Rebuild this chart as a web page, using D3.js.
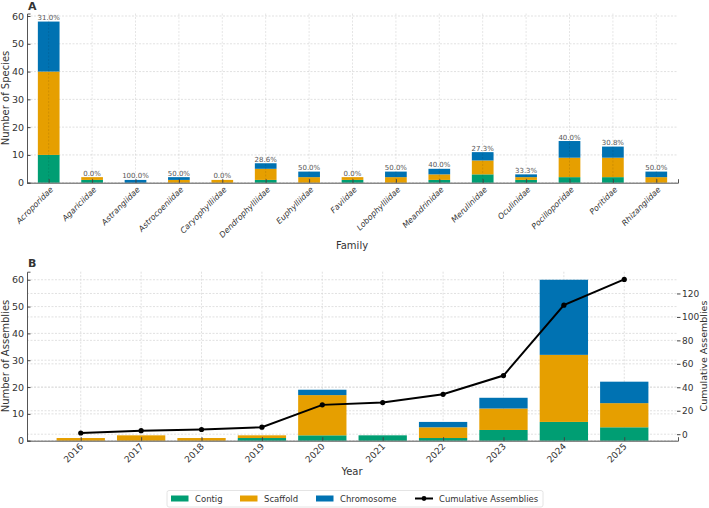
<!DOCTYPE html>
<html>
<head>
<meta charset="utf-8">
<script src="https://cdn.jsdelivr.net/npm/d3@7"></script>
<style>
  body { margin: 0; background: #fff; }
  svg { font-family: "DejaVu Sans", sans-serif; }
</style>
</head>
<body>
<div id="chart"></div>
<script>
// Panel A data: species per family by assembly level
var families = ["Acroporidae", "Agariciidae", "Astrangiidae", "Astrocoeniidae", "Caryophylliidae",
  "Dendrophylliidae", "Euphylliidae", "Faviidae", "Lobophylliidae", "Meandrinidae",
  "Merulinidae", "Oculinidae", "Pocilloporidae", "Poritidae", "Rhizangiidae"];
var famContig     = [10, 1, 0, 0, 0, 1, 0, 1, 0, 1, 3, 1, 2, 2, 0];
var famScaffold   = [30, 1, 0, 1, 1, 4, 2, 1, 2, 2, 5, 1, 7, 7, 2];
var famChromosome = [18, 0, 1, 1, 0, 2, 2, 0, 2, 2, 3, 1, 6, 4, 2];

// Panel B data: assemblies per year
var years = ["2016", "2017", "2018", "2019", "2020", "2021", "2022", "2023", "2024", "2025"];
var yearContig     = [0, 0, 0, 1, 2, 2, 1, 4, 7, 5];
var yearScaffold   = [1, 2, 1, 1, 15, 0, 4, 8, 25, 9];
var yearChromosome = [0, 0, 0, 0, 2, 0, 2, 4, 28, 8];

var levels = ["Contig", "Scaffold", "Chromosome"];
var colors = { Contig: "#009E73", Scaffold: "#E69F00", Chromosome: "#0072B2" };

var W = 709, H = 508;
var svg = d3.select("#chart").append("svg").attr("width", W).attr("height", H);

var txt = "#333";
var gridCol = "#d9d9d9";

function stackRows(cats, c, s, ch) {
  return cats.map(function (name, i) {
    return { name: name, i: i, Contig: c[i], Scaffold: s[i], Chromosome: ch[i] };
  });
}

// ---------- Panel A ----------
var rowsA = stackRows(families, famContig, famScaffold, famChromosome);
var xA = d3.scaleLinear().domain([-0.5, 14.5]).range([27, 678]);
var yA = d3.scaleLinear().domain([0, 60.9]).range([182.7, 13.5]);
var gA = svg.append("g");

// horizontal grid
gA.selectAll(".hgrid").data(yA.ticks(7).filter(function (d) { return d <= 60; })).enter()
  .append("line")
  .attr("x1", 27).attr("x2", 678)
  .attr("y1", function (d) { return yA(d); }).attr("y2", function (d) { return yA(d); })
  .attr("stroke", gridCol).attr("stroke-width", 0.8).attr("stroke-dasharray", "2,1.5");

var seriesA = d3.stack().keys(levels)(rowsA);
var wA = xA(0.25) - xA(-0.25);
gA.selectAll(".layer").data(seriesA).enter().append("g")
  .attr("fill", function (d) { return colors[d.key]; })
  .selectAll("rect").data(function (d) { return d; }).enter().append("rect")
  .attr("x", function (d) { return xA(d.data.i) - wA / 2; })
  .attr("width", wA)
  .attr("y", function (d) { return yA(d[1]); })
  .attr("height", function (d) { return yA(d[0]) - yA(d[1]); });

// vertical grid (drawn over the bars)
gA.selectAll(".vgrid").data(rowsA).enter().append("line")
  .attr("x1", function (d) { return xA(d.i); }).attr("x2", function (d) { return xA(d.i); })
  .attr("y1", 13.5).attr("y2", 182.7)
  .attr("stroke", "rgba(0,0,0,0.13)").attr("stroke-width", 0.8).attr("stroke-dasharray", "2,1.5");

// percent labels
gA.selectAll(".pct").data(rowsA).enter().append("text")
  .attr("x", function (d) { return xA(d.i); })
  .attr("y", function (d) { return yA(d.Contig + d.Scaffold + d.Chromosome) - 1.5; })
  .attr("text-anchor", "middle").attr("font-size", 7).attr("fill", "#555")
  .text(function (d) {
    var tot = d.Contig + d.Scaffold + d.Chromosome;
    return (100 * d.Chromosome / tot).toFixed(1) + "%";
  });

// axes
var axAx = gA.append("g").attr("transform", "translate(0,182.7)")
  .call(d3.axisBottom(xA).tickValues(d3.range(families.length)).tickSize(-3.5).tickFormat(""));
var axAy = gA.append("g").attr("transform", "translate(27,0)")
  .call(d3.axisLeft(yA).tickValues([0, 10, 20, 30, 40, 50, 60]).tickSize(-3.5).tickPadding(3));
[axAx, axAy].forEach(function (a) {
  a.select(".domain").attr("stroke", "#555").attr("stroke-width", 1);
  a.selectAll(".tick line").attr("stroke", "#444");
  a.selectAll("text").attr("fill", txt).attr("font-size", 9.5).attr("font-family", "DejaVu Sans");
});
axAy.selectAll("text").attr("x", -3);

gA.selectAll(".xlab").data(rowsA).enter().append("text")
  .attr("transform", function (d) { return "translate(" + (xA(d.i) + 5) + ",190) rotate(-45)"; })
  .attr("text-anchor", "end").attr("font-size", 8).attr("font-style", "italic").attr("fill", txt)
  .text(function (d) { return d.name; });

gA.append("text").attr("x", 352).attr("y", 249).attr("text-anchor", "middle")
  .attr("font-size", 10).attr("fill", txt).text("Family");
gA.append("text").attr("transform", "translate(9,98) rotate(-90)").attr("text-anchor", "middle")
  .attr("font-size", 10).attr("fill", txt).text("Number of Species");
gA.append("text").attr("x", 28).attr("y", 9.5).attr("font-size", 11).attr("font-weight", "bold")
  .attr("fill", txt).text("A");

// ---------- Panel B ----------
var rowsB = stackRows(years, yearContig, yearScaffold, yearChromosome);
var cumul = [];
rowsB.reduce(function (acc, d) {
  var t = acc + d.Contig + d.Scaffold + d.Chromosome;
  cumul.push({ i: d.i, v: t });
  return t;
}, 0);

var xB = d3.scaleLinear().domain([-0.89, 9.89]).range([27, 678]);
var yB = d3.scaleLinear().domain([0, 63]).range([440.7, 271.7]);
var yB2 = d3.scaleLinear().domain([-5.55, 138.55]).range([440.7, 271.7]);
var gB = svg.append("g");

var leftTicks = [0, 10, 20, 30, 40, 50, 60];
var rightTicks = [0, 20, 40, 60, 80, 100, 120];
gB.selectAll(".hgrid").data(leftTicks).enter().append("line")
  .attr("x1", 27).attr("x2", 678)
  .attr("y1", function (d) { return yB(d); }).attr("y2", function (d) { return yB(d); })
  .attr("stroke", gridCol).attr("stroke-width", 0.8).attr("stroke-dasharray", "2,1.5");
gB.selectAll(".hgrid2").data(rightTicks).enter().append("line")
  .attr("x1", 27).attr("x2", 678)
  .attr("y1", function (d) { return yB2(d); }).attr("y2", function (d) { return yB2(d); })
  .attr("stroke", gridCol).attr("stroke-width", 0.8).attr("stroke-dasharray", "2,1.5");
gB.selectAll(".vgrid").data(rowsB).enter().append("line")
  .attr("x1", function (d) { return xB(d.i); }).attr("x2", function (d) { return xB(d.i); })
  .attr("y1", 271.7).attr("y2", 440.7)
  .attr("stroke", gridCol).attr("stroke-width", 0.8).attr("stroke-dasharray", "2,1.5");

var seriesB = d3.stack().keys(levels)(rowsB);
var wB = xB(0.4) - xB(-0.4);
gB.selectAll(".layer").data(seriesB).enter().append("g")
  .attr("fill", function (d) { return colors[d.key]; })
  .selectAll("rect").data(function (d) { return d; }).enter().append("rect")
  .attr("x", function (d) { return xB(d.data.i) - wB / 2; })
  .attr("width", wB)
  .attr("y", function (d) { return yB(d[1]); })
  .attr("height", function (d) { return yB(d[0]) - yB(d[1]); });

var line = d3.line().x(function (d) { return xB(d.i); }).y(function (d) { return yB2(d.v); });
gB.append("path").datum(cumul).attr("d", line).attr("fill", "none")
  .attr("stroke", "#000").attr("stroke-width", 2);
gB.selectAll(".pt").data(cumul).enter().append("circle")
  .attr("cx", function (d) { return xB(d.i); }).attr("cy", function (d) { return yB2(d.v); })
  .attr("r", 2.6).attr("fill", "#000");

var axBx = gB.append("g").attr("transform", "translate(0,440.7)")
  .call(d3.axisBottom(xB).tickValues(d3.range(years.length)).tickSize(-3.5).tickFormat(""));
var axBy = gB.append("g").attr("transform", "translate(27,0)")
  .call(d3.axisLeft(yB).tickValues(leftTicks).tickSize(-3.5).tickPadding(3));
var axBy2 = gB.append("g").attr("transform", "translate(677,0)")
  .call(d3.axisRight(yB2).tickValues(rightTicks).tickSize(3.5).tickPadding(1.5));
[axBx, axBy, axBy2].forEach(function (a) {
  a.select(".domain").attr("stroke", "#555").attr("stroke-width", 1);
  a.selectAll(".tick line").attr("stroke", "#444");
  a.selectAll("text").attr("fill", txt).attr("font-size", 9.5).attr("font-family", "DejaVu Sans");
});
axBy.selectAll("text").attr("x", -3);
axBy2.select(".domain").remove();
axBy2.selectAll("text").attr("font-size", 9);

gB.selectAll(".xlab").data(rowsB).enter().append("text")
  .attr("transform", function (d) { return "translate(" + (xB(d.i) + 3) + ",447) rotate(-45)"; })
  .attr("text-anchor", "end").attr("font-size", 9).attr("fill", txt)
  .text(function (d) { return d.name; });

gB.append("text").attr("x", 352).attr("y", 475).attr("text-anchor", "middle")
  .attr("font-size", 10).attr("fill", txt).text("Year");
gB.append("text").attr("transform", "translate(9,356) rotate(-90)").attr("text-anchor", "middle")
  .attr("font-size", 10).attr("fill", txt).text("Number of Assemblies");
gB.append("text").attr("transform", "translate(706.5,356) rotate(-90)").attr("text-anchor", "middle")
  .attr("font-size", 9.5).attr("fill", txt).text("Cumulative Assemblies");
gB.append("text").attr("x", 28).attr("y", 267).attr("font-size", 11).attr("font-weight", "bold")
  .attr("fill", txt).text("B");

// ---------- Legend ----------
var lg = svg.append("g");
lg.append("rect").attr("x", 167).attr("y", 490.5).attr("width", 376).attr("height", 16.5)
  .attr("rx", 2).attr("fill", "#fff").attr("stroke", "#ddd").attr("stroke-width", 0.8);
var legendItems = [
  { label: "Contig", x: 171, type: "rect" },
  { label: "Scaffold", x: 240, type: "rect" },
  { label: "Chromosome", x: 316, type: "rect" },
  { label: "Cumulative Assemblies", x: 415, type: "line" }
];
legendItems.forEach(function (d) {
  if (d.type === "rect") {
    lg.append("rect").attr("x", d.x).attr("y", 495.5).attr("width", 17.5).attr("height", 6)
      .attr("fill", colors[d.label]);
  } else {
    lg.append("line").attr("x1", d.x).attr("x2", d.x + 18).attr("y1", 498.5).attr("y2", 498.5)
      .attr("stroke", "#000").attr("stroke-width", 2);
    lg.append("circle").attr("cx", d.x + 9).attr("cy", 498.5).attr("r", 2.4).attr("fill", "#000");
  }
  lg.append("text").attr("x", d.x + 24).attr("y", 501.5).attr("font-size", 8.5).attr("fill", txt)
    .text(d.label);
});
</script>
</body>
</html>
